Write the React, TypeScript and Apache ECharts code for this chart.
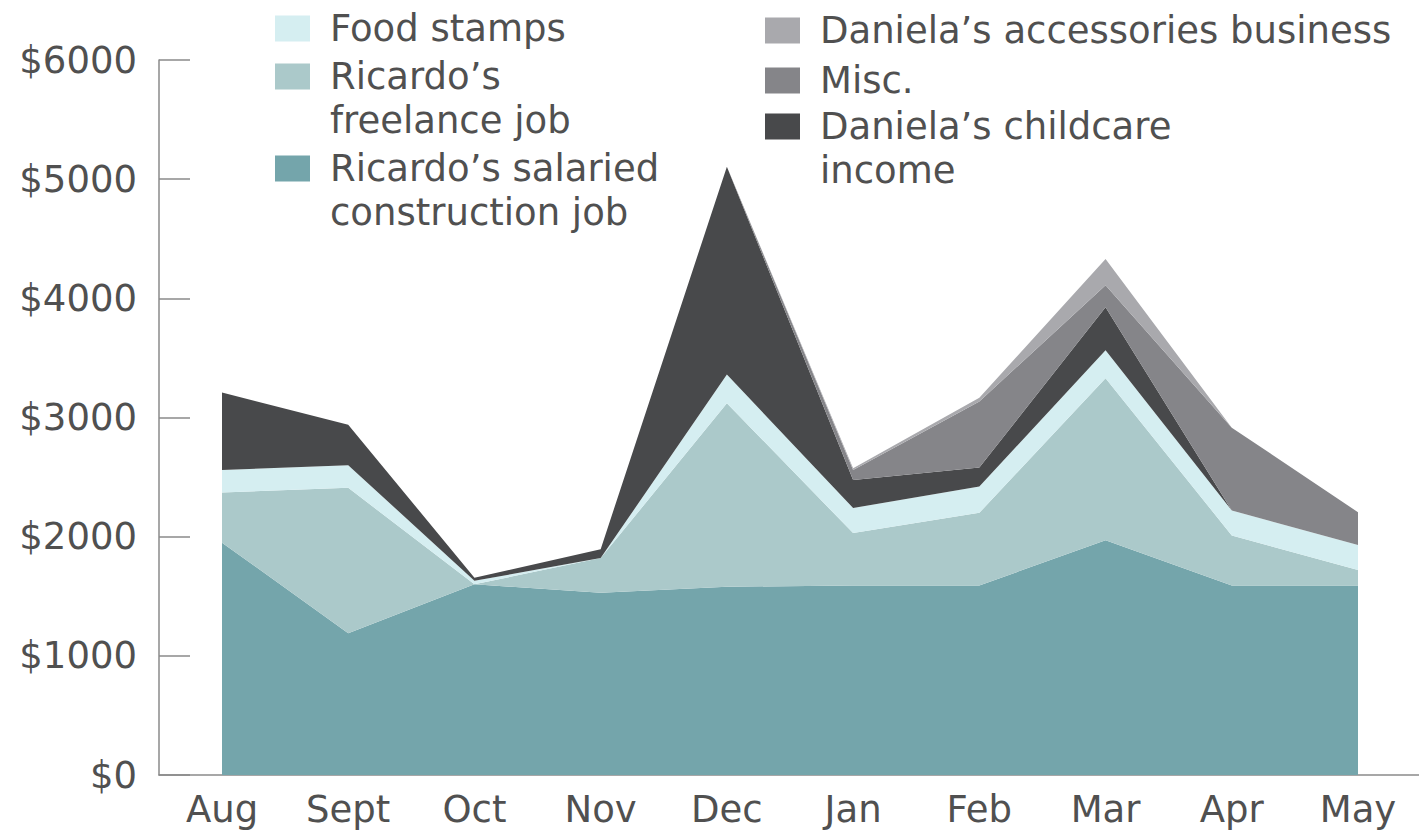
import React, { useEffect, useRef } from "react";
import * as echarts from "echarts";

const months = ["Aug", "Sept", "Oct", "Nov", "Dec", "Jan", "Feb", "Mar", "Apr", "May"];
const salaried = [1950, 1190, 1600, 1530, 1580, 1590, 1590, 1970, 1590, 1590];
const freelance = [420, 1220, 0, 290, 1540, 440, 610, 1360, 420, 130];
const foodStamps = [190, 190, 30, 0, 240, 210, 220, 235, 210, 210];
const childcare = [650, 340, 25, 75, 1745, 235, 160, 360, 0, 0];
const misc = [0, 0, 0, 0, 0, 85, 555, 185, 695, 275];
const accessories = [0, 0, 0, 0, 0, 15, 30, 220, 0, 0];
const yTicks = [0, 1000, 2000, 3000, 4000, 5000, 6000];

const NAMES = {
  salaried: "Ricardo’s salaried construction job",
  freelance: "Ricardo’s freelance job",
  food: "Food stamps",
  childcare: "Daniela’s childcare income",
  misc: "Misc.",
  acc: "Daniela’s accessories business",
};
const LABELS: Record<string, string> = {
  [NAMES.salaried]: "Ricardo’s salaried\nconstruction job",
  [NAMES.freelance]: "Ricardo’s\nfreelance job",
  [NAMES.food]: "Food stamps",
  [NAMES.childcare]: "Daniela’s childcare\nincome",
  [NAMES.misc]: "Misc.",
  [NAMES.acc]: "Daniela’s accessories business",
};
const COLORS = {
  salaried: "#74a5ab",
  freelance: "#abc9ca",
  food: "#d5eef1",
  childcare: "#48494b",
  misc: "#858589",
  acc: "#a9a9ad",
};

const FONT = "DejaVu Sans";
const FS = 37;
const LH = 44;
const TXT = "#505050";

function legendFor(name: string, left: number, centerY: number) {
  const twoLine = LABELS[name].indexOf("\n") >= 0;
  return {
    data: [{ name }],
    left,
    top: centerY - FS / 2 - (twoLine ? 47 : 0),
    orient: "vertical",
    padding: 0,
    icon: "rect",
    itemWidth: 35,
    itemHeight: 26,
    selectedMode: false,
    itemStyle: { borderWidth: 0 },
    formatter: (n: string) => (twoLine ? "\n" : "") + (LABELS[n] || n),
    textStyle: {
      fontFamily: FONT,
      fontSize: FS,
      lineHeight: LH,
      color: TXT,
      padding: [0, 0, 0, 15],
    },
  };
}

function areaSeries(name: string, data: number[], color: string) {
  return {
    name,
    type: "line",
    stack: "total",
    data,
    xAxisIndex: 0,
    yAxisIndex: 0,
    symbol: "none",
    showSymbol: false,
    color,
    lineStyle: { width: 0, color },
    itemStyle: { color },
    areaStyle: { color, opacity: 1 },
    emphasis: { disabled: true },
  };
}

export default function App() {
  const ref = useRef<HTMLDivElement>(null);
  useEffect(() => {
    if (!ref.current) return;
    const chart = echarts.init(ref.current, undefined, { renderer: "svg" });
    chart.setOption({
      animation: false,
      backgroundColor: "#ffffff",
      textStyle: { fontFamily: FONT },
      legend: [
        legendFor(NAMES.food, 275, 25),
        legendFor(NAMES.freelance, 275, 76),
        legendFor(NAMES.salaried, 275, 168),
        legendFor(NAMES.acc, 765, 27),
        legendFor(NAMES.misc, 765, 77),
        legendFor(NAMES.childcare, 765, 126),
      ],
      grid: [
        { left: 222, right: 61, top: 60, bottom: 63 },
        { left: 159, right: 0, top: 60, bottom: 63 },
      ],
      xAxis: [
        {
          type: "category",
          gridIndex: 0,
          data: months,
          boundaryGap: false,
          axisLine: { show: false },
          axisTick: { show: false },
          axisLabel: {
            fontFamily: FONT,
            fontSize: FS,
            color: TXT,
            margin: 16,
            interval: 0,
          },
          splitLine: { show: false },
        },
        {
          type: "value",
          gridIndex: 1,
          min: 0,
          max: 1,
          axisLine: { show: true, lineStyle: { color: "#8a8a8a", width: 1.5 } },
          axisTick: { show: false },
          axisLabel: { show: false },
          splitLine: { show: false },
        },
      ],
      yAxis: [
        {
          type: "value",
          gridIndex: 0,
          min: 0,
          max: 6000,
          interval: 1000,
          show: false,
          splitLine: { show: false },
        },
        {
          type: "value",
          gridIndex: 1,
          min: 0,
          max: 6000,
          interval: 1000,
          axisLine: { show: true, lineStyle: { color: "#8a8a8a", width: 1.5 } },
          axisTick: {
            show: true,
            inside: true,
            length: 31,
            lineStyle: { color: "#8a8a8a", width: 1.5 },
          },
          axisLabel: {
            fontFamily: FONT,
            fontSize: FS,
            color: TXT,
            margin: 22,
            formatter: (v: number) => (yTicks.indexOf(v) >= 0 ? "$" + v : ""),
          },
          splitLine: { show: false },
        },
      ],
      series: [
        areaSeries(NAMES.salaried, salaried, COLORS.salaried),
        areaSeries(NAMES.freelance, freelance, COLORS.freelance),
        areaSeries(NAMES.food, foodStamps, COLORS.food),
        areaSeries(NAMES.childcare, childcare, COLORS.childcare),
        areaSeries(NAMES.misc, misc, COLORS.misc),
        areaSeries(NAMES.acc, accessories, COLORS.acc),
      ],
    });
    return () => chart.dispose();
  }, []);
  return (
    <div
      ref={ref}
      style={{ position: "fixed", left: 0, top: 0, width: 1419, height: 838 }}
    />
  );
}
